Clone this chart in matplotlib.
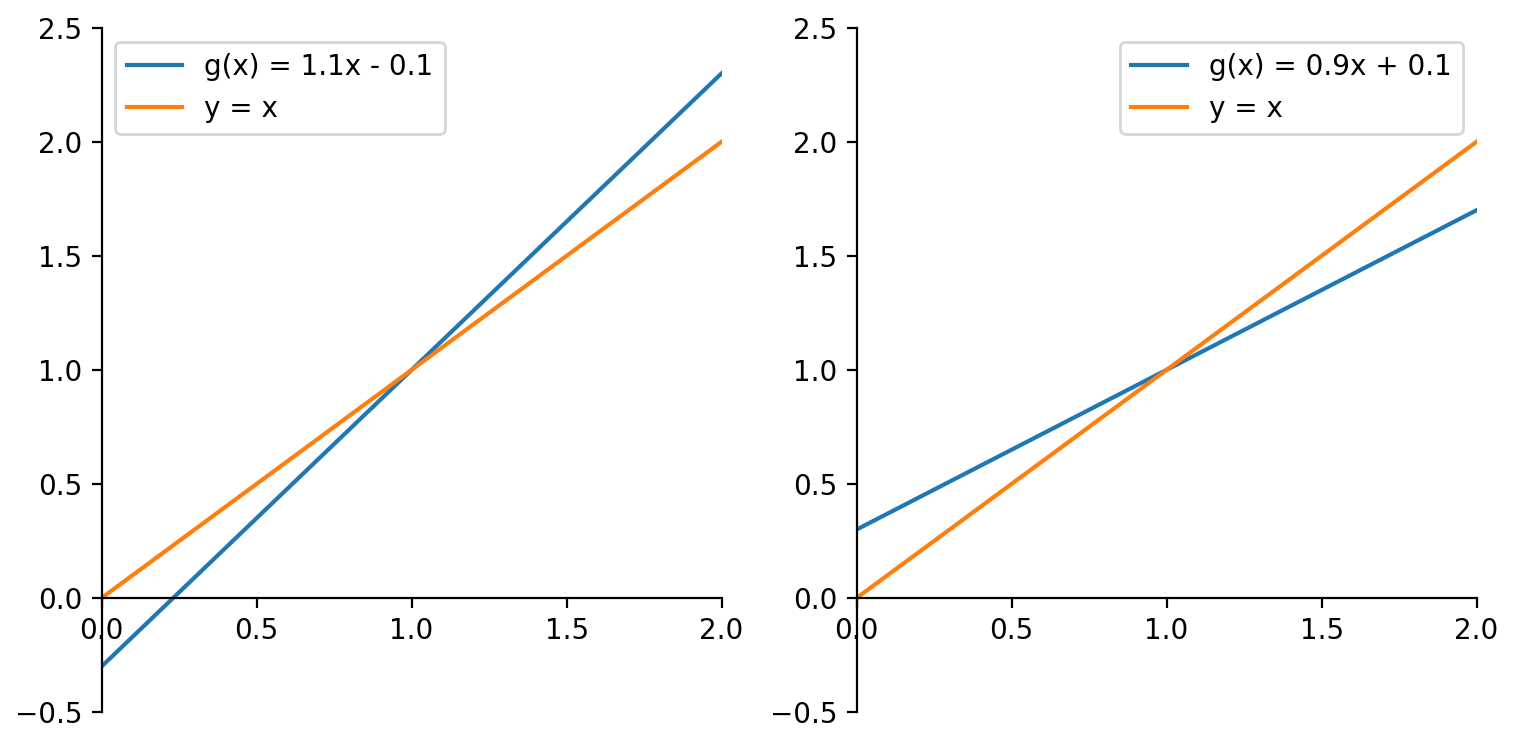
import matplotlib
matplotlib.use("Agg")
import matplotlib.pyplot as plt
import numpy as np

x_vals = [0.0, 2.0]
left_g = [-0.3, 2.3]
left_id = [0.0, 2.0]
right_g = [0.3, 1.7]
right_id = [0.0, 2.0]
left_label = "g(x) = 1.1x - 0.1"
right_label = "g(x) = 0.9x + 0.1"

fig = plt.figure(figsize=(7.58, 3.74), dpi=200)
ax1 = fig.add_axes([0.067, 0.048, 0.409, 0.915])
ax2 = fig.add_axes([0.565, 0.048, 0.409, 0.915])

for ax, g, ident, lab, loc in [(ax1, left_g, left_id, left_label, "upper left"),
                               (ax2, right_g, right_id, right_label, "upper right")]:
    ax.plot(x_vals, g, color="#1f77b4", label=lab)
    ax.plot(x_vals, ident, color="#ff7f0e", label="y = x")
    ax.set_xlim(0, 2)
    ax.set_ylim(-0.5, 2.5)
    ax.set_xticks([0, 0.5, 1.0, 1.5, 2.0])
    ax.set_yticks([-0.5, 0, 0.5, 1.0, 1.5, 2.0, 2.5])
    ax.spines["bottom"].set_position(("data", 0))
    ax.spines["left"].set_position(("data", 0))
    ax.spines["top"].set_visible(False)
    ax.spines["right"].set_visible(False)
    ax.legend(loc=loc)

fig.savefig("out.png", dpi=200)
